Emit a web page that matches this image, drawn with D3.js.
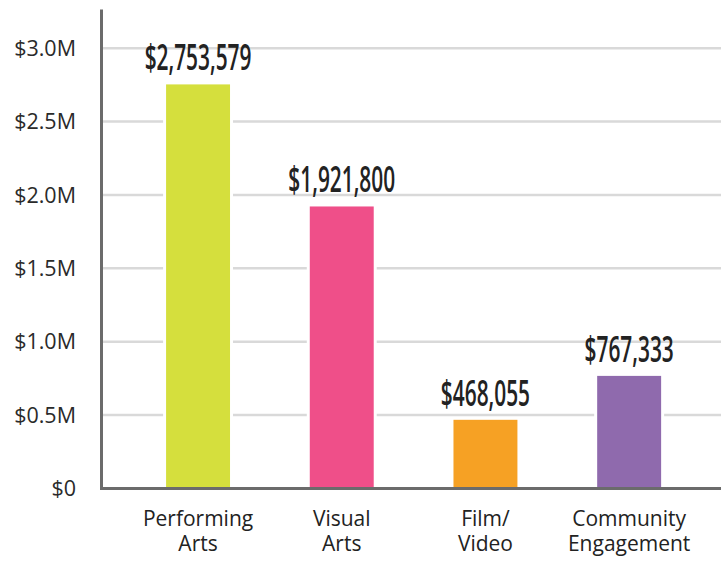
<!DOCTYPE html>
<html>
<head>
<meta charset="utf-8">
<script src="https://cdn.jsdelivr.net/npm/d3@7"></script>
<style>
  body { margin: 0; background: #fff; }
  svg { display: block; }
</style>
</head>
<body>
<div id="chart"></div>
<script>
const categories = [["Performing", "Arts"], ["Visual", "Arts"], ["Film/", "Video"], ["Community", "Engagement"]];
const values = [2753579, 1921800, 468055, 767333];
const colors = ["#d5df3d", "#ef4f89", "#f6a124", "#8f6aad"];
const ticks = [0, 500000, 1000000, 1500000, 2000000, 2500000, 3000000];
const tickLabels = ["$0", "$0.5M", "$1.0M", "$1.5M", "$2.0M", "$2.5M", "$3.0M"];

let width = 723,
  height = 564;

const data = values.map((v, i) => ({ key: i, label: categories[i], value: v, color: colors[i] }));

let x = d3.scaleBand()
  .domain(data.map(d => d.key))
  .range([126.2, 701])
  .paddingInner(0.555)
  .paddingOuter(0.2775);

let y = d3.scaleLinear()
  .domain([0, 3264000])
  .range([488.5, 9.5]);

const svg = d3.select("#chart")
  .append("svg")
  .attr("width", width)
  .attr("height", height);

// gridlines
svg.append("g")
  .selectAll("line")
  .data(ticks.slice(1))
  .join("line")
  .attr("x1", 102)
  .attr("x2", 721)
  .attr("y1", d => y(d))
  .attr("y2", d => y(d))
  .attr("stroke", "#d9d9d9")
  .attr("stroke-width", 2.5);

// tick labels
svg.append("g")
  .selectAll("text")
  .data(ticks)
  .join("text")
  .attr("x", 76)
  .attr("y", d => y(d))
  .attr("dy", "0.36em")
  .attr("text-anchor", "end")
  .attr("font-family", "Open Sans, sans-serif")
  .attr("font-size", 21.5)
  .attr("fill", "#2a2a2a")
  .text((d, i) => tickLabels[i]);

const bar = svg.selectAll(".bar")
  .data(data)
  .join("g")
  .attr("class", "bar");

// white halo so gridlines break around the bars
bar.append("rect")
  .attr("x", d => x(d.key) - 3)
  .attr("width", x.bandwidth() + 6)
  .attr("y", d => y(d.value) - 1)
  .attr("height", d => y(0) - y(d.value) + 1)
  .attr("fill", "#fff");

bar.append("rect")
  .attr("x", d => x(d.key))
  .attr("width", x.bandwidth())
  .attr("y", d => y(d.value))
  .attr("height", d => y(0) - y(d.value))
  .attr("fill", d => d.color);

bar.append("text")
  .attr("x", d => x(d.key) + x.bandwidth() / 2)
  .attr("y", d => y(d.value) - 14)
  .attr("text-anchor", "middle")
  .attr("font-family", "Open Sans, sans-serif")
  .attr("font-weight", 600)
  .attr("font-size", 36)
  .attr("fill", "#222")
  .attr("transform", d => {
    const cx = x(d.key) + x.bandwidth() / 2;
    return `translate(${cx},0) scale(0.58,1) translate(${-cx},0)`;
  })
  .text(d => "$" + d3.format(",")(d.value));

// category labels, one text per line
bar.each(function(d) {
  const cx = x(d.key) + x.bandwidth() / 2;
  d3.select(this).selectAll(".cat")
    .data(d.label)
    .join("text")
    .attr("class", "cat")
    .attr("x", cx)
    .attr("y", (l, i) => 526 + i * 25)
    .attr("text-anchor", "middle")
    .attr("font-family", "Open Sans, sans-serif")
    .attr("font-size", 21)
    .attr("fill", "#222")
    .text(l => l);
});

// axes
svg.append("line")
  .attr("x1", 101.5).attr("x2", 101.5)
  .attr("y1", 9.5).attr("y2", 490)
  .attr("stroke", "#6b6b6b")
  .attr("stroke-width", 3);

svg.append("line")
  .attr("x1", 100).attr("x2", 721)
  .attr("y1", y(0)).attr("y2", y(0))
  .attr("stroke", "#6b6b6b")
  .attr("stroke-width", 3);
</script>
</body>
</html>
